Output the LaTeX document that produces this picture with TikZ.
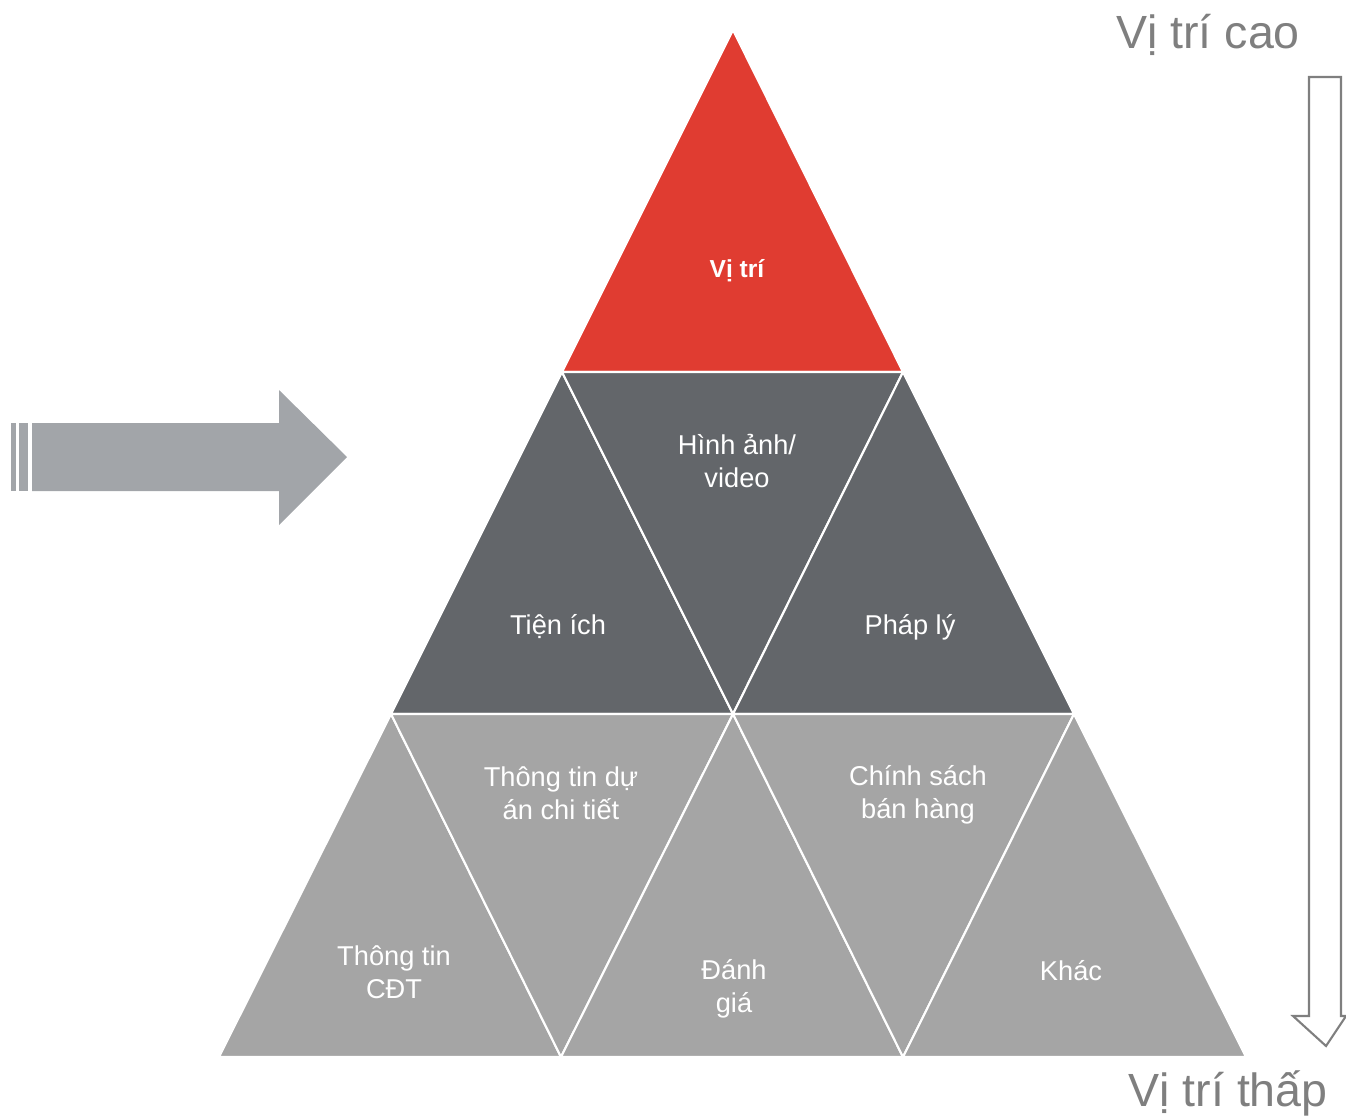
\documentclass[tikz,border=0pt]{standalone}
\usepackage{fontspec}
\setmainfont{Liberation Sans}
\usepackage{tikz}
\usetikzlibrary{calc}

\definecolor{topred}{RGB}{224,60,49}
\definecolor{middark}{RGB}{99,102,106}
\definecolor{lowgray}{RGB}{165,165,165}
\definecolor{arrowgray}{RGB}{162,165,169}
\definecolor{scalegray}{RGB}{127,127,127}

\tikzset{
	tri/.style={draw=white, line width=1.2pt, line join=miter},
	lbl/.style={text=white, align=center, font=\fontsize{15.5}{18.5}\selectfont, inner sep=0pt},
	scalelbl/.style={text=scalegray, font=\fontsize{26.5}{30}\selectfont, inner sep=0pt}
}

\begin{document}
\begin{tikzpicture}[x=0.02cm, y=-0.02cm]
			%%%%% START %%%%%
			\useasboundingbox (0, 0) rectangle (1346, 1117);
			
			% corners of the pyramid
			\coordinate (A) at (733, 30);
			\coordinate (B1) at (562, 372);
			\coordinate (B2) at (903, 372);
			\coordinate (C1) at (391, 714);
			\coordinate (C2) at (733, 714);
			\coordinate (C3) at (1074, 714);
			\coordinate (D1) at (219, 1057);
			\coordinate (D2) at (561, 1057);
			\coordinate (D3) at (903, 1057);
			\coordinate (D4) at (1246, 1057);
			
			% top
			\draw[tri, fill=topred] (A) -- (B1) -- (B2) -- cycle;
			
			% middle row
			\draw[tri, fill=middark] (B1) -- (C1) -- (C2) -- cycle;
			\draw[tri, fill=middark] (B1) -- (B2) -- (C2) -- cycle;
			\draw[tri, fill=middark] (B2) -- (C2) -- (C3) -- cycle;
			
			% bottom row
			\draw[tri, fill=lowgray] (C1) -- (D1) -- (D2) -- cycle;
			\draw[tri, fill=lowgray] (C1) -- (C2) -- (D2) -- cycle;
			\draw[tri, fill=lowgray] (C2) -- (D2) -- (D3) -- cycle;
			\draw[tri, fill=lowgray] (C2) -- (C3) -- (D3) -- cycle;
			\draw[tri, fill=lowgray] (C3) -- (D3) -- (D4) -- cycle;
			
			\node[lbl, font=\fontsize{14}{17}\selectfont\bfseries] (vitri) at (737, 271) {Vị trí};
			\node[lbl] (hinhanh) at (737, 461) {Hình ảnh/\\video};
			\node[lbl] (tienich) at (558, 627) {Tiện ích};
			\node[lbl] (phaply) at (910, 627) {Pháp lý};
			\node[lbl] (duan) at (561, 793) {Thông tin dự\\án chi tiết};
			\node[lbl] (chinhsach) at (918, 795) {Chính sách\\bán hàng};
			\node[lbl] (cdt) at (394, 972) {Thông tin\\CĐT};
			\node[lbl] (danhgia) at (734, 989) {Đánh\\giá};
			\node[lbl] (khac) at (1071, 971) {Khác};
			
			% left arrow
			\fill[arrowgray] (11, 423) rectangle (16, 491);
			\fill[arrowgray] (19, 423) rectangle (28, 491);
			\fill[arrowgray] (32, 423) -- (279, 423) -- (279, 390) -- (347, 457)
				-- (279, 525) -- (279, 491) -- (32, 491) -- cycle;
			
			% right scale arrow
			\draw[scalegray, line width=1.2pt, fill=white] (1309, 77) -- (1341, 77) -- (1341, 1016)
				-- (1346, 1016) -- (1326, 1046) -- (1293, 1016) -- (1309, 1016) -- cycle;
			\node[scalelbl] (cao) at (1208, 35) {Vị trí cao};
			\node[scalelbl] (thap) at (1228, 1093) {Vị trí thấp};
			%%%%% END %%%%%
\end{tikzpicture}
\end{document}
